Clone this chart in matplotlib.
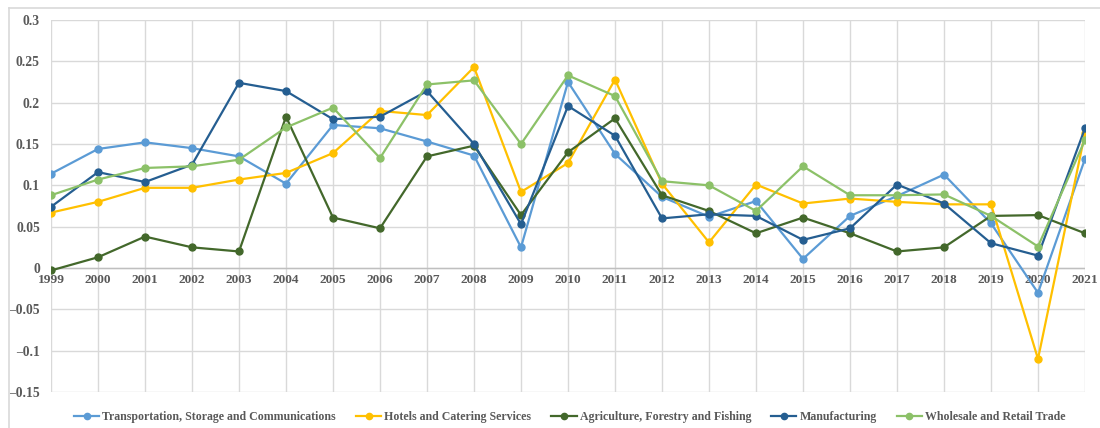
import numpy as np
from matplotlib import pyplot as plt
from matplotlib.lines import Line2D

years = list(range(1999, 2022))

transport = [0.114, 0.144, 0.152, 0.145, 0.135, 0.102, 0.173, 0.169, 0.153, 0.136, 0.025,
             0.225, 0.138, 0.086, 0.062, 0.081, 0.011, 0.063, 0.087, 0.113, 0.054, -0.030, 0.132]
hotels = [0.067, 0.080, 0.097, 0.097, 0.107, 0.115, 0.139, 0.190, 0.185, 0.243, 0.092,
          0.127, 0.228, 0.102, 0.031, 0.101, 0.078, 0.084, 0.080, 0.077, 0.077, -0.110, 0.163]
agriculture = [-0.003, 0.013, 0.038, 0.025, 0.020, 0.183, 0.061, 0.048, 0.135, 0.148, 0.064,
               0.140, 0.181, 0.088, 0.069, 0.042, 0.061, 0.042, 0.020, 0.025, 0.063, 0.064, 0.042]
manufacturing = [0.074, 0.116, 0.104, 0.125, 0.224, 0.214, 0.180, 0.183, 0.214, 0.150, 0.053,
                 0.196, 0.160, 0.060, 0.065, 0.063, 0.034, 0.048, 0.101, 0.078, 0.030, 0.015, 0.169]
wholesale = [0.088, 0.107, 0.121, 0.123, 0.131, 0.170, 0.194, 0.133, 0.222, 0.227, 0.150,
             0.233, 0.208, 0.105, 0.100, 0.069, 0.123, 0.088, 0.088, 0.089, 0.063, 0.026, 0.155]

series = [
    ("Transportation, Storage and Communications", transport, "#5B9BD5"),
    ("Hotels and Catering Services", hotels, "#FFC000"),
    ("Agriculture, Forestry and Fishing", agriculture, "#43682B"),
    ("Manufacturing", manufacturing, "#255E91"),
    ("Wholesale and Retail Trade", wholesale, "#8CC168"),
]

yticks = [0.3, 0.25, 0.2, 0.15, 0.1, 0.05, 0, -0.05, -0.1, -0.15]

plt.rcParams['font.family'] = ['Liberation Serif', 'DejaVu Serif']
label_color = "#595959"

fig = plt.figure(figsize=(11, 4.28), dpi=100)
ax = fig.add_axes([51 / 1100, 1 - 392 / 428, (1085 - 51) / 1100, (392 - 20) / 428])

# outer chart frame
fig.add_artist(Line2D([9 / 1100, 1.0], [1 - 7.5 / 428] * 2, color="#D9D9D9", lw=1.2))
fig.add_artist(Line2D([9 / 1100] * 2, [0.0, 1 - 7.5 / 428], color="#D9D9D9", lw=1.2))

for y in yticks:
    ax.axhline(y, color="#D9D9D9", lw=1.0, zorder=0)
for yr in years:
    ax.axvline(yr, color="#D9D9D9", lw=1.0, zorder=0)
ax.axhline(0, color="#BFBFBF", lw=1.0, zorder=1)

handles = []
for name, vals, col in series:
    h, = ax.plot(years, vals, color=col, lw=1.6, marker="o", markersize=5,
                 label=name, zorder=3)
    handles.append(h)

ax.set_xlim(1999, 2021)
ax.set_ylim(-0.15, 0.3)
for s in ax.spines.values():
    s.set_visible(False)

ax.set_xticks([])
ax.set_yticks(yticks)
ax.set_yticklabels(["%g" % v if v >= 0 else "\u2013%g" % abs(v) for v in yticks],
                   fontsize=9.8, fontweight="bold", color=label_color)
ax.tick_params(axis="y", length=0, pad=8)

for yr in years:
    ax.text(yr, -0.0075, str(yr), ha="center", va="top", fontsize=9.6,
            fontweight="bold", color=label_color, zorder=2)

fig.legend(handles=handles, loc="center", bbox_to_anchor=(0.518, 1 - 417 / 428),
           ncol=5, frameon=False, handlelength=2.1, columnspacing=1.7,
           handletextpad=0.25, prop={"size": 8.6, "weight": "bold"},
           labelcolor=label_color, markerscale=0.9)

fig.savefig("out.png", dpi=100)
